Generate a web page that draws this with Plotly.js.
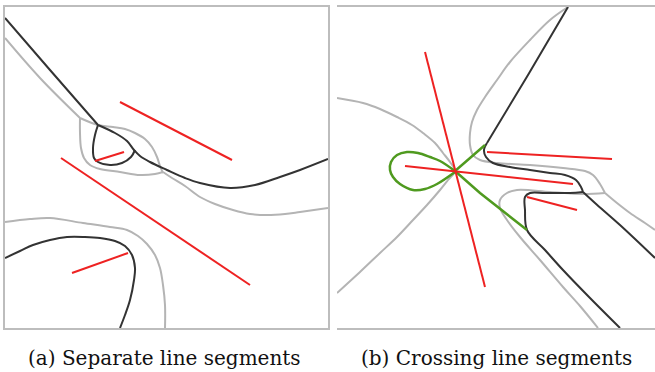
<!DOCTYPE html>
<html><head><meta charset="utf-8">
<script src="https://cdn.plot.ly/plotly-3.0.1.min.js"></script>
<style>body{margin:0;background:#fff}#c{width:655px;height:372px}</style>
</head><body><div id="c"></div>
<script>
// Panel (a) curves, coordinates in the panel's own units
const aBlackUpper = [[5,18],[50,70],[98,125]];
const aBlackMain = [[98,125],[115,133],[127,141],[134,150],[140,156],[150,162],[167,170],[185,178],[200,183],[230,188],[255,185],[280,177],[300,170],[328,159]];
const aBlackLoop = [[98,125],[95,135],[93,148],[94,158],[98,162],[110,165],[122,163],[131,157],[135,150]];
const aGrayUpper = [[5,38],[40,78],[80,118]];
const aGrayTop = [[80,118],[98,125],[113,127],[125,129],[135,133],[145,139],[152,147],[157,157],[160,166],[163,173]];
const aGrayLoop = [[80,118],[80,133],[81,148],[84,158],[90,165],[100,169],[120,172],[140,175],[155,174],[163,172]];
const aGrayMain = [[163,172],[172,178],[185,186],[200,197],[215,204],[233,210],[250,214],[267,215],[285,214],[300,212],[328,208]];
const aGrayLower = [[5,222],[30,219],[50,218],[83,223],[110,227],[127,230],[138,236],[147,244],[155,255],[160,268],[163,285],[165,305],[165,328]];
const aBlackLower = [[5,258],[20,251],[33,245],[50,240],[67,237],[85,237],[100,238],[115,241],[125,246],[132,255],[135,268],[134,280],[130,300],[125,315],[120,328]];
const aRedSegments = [[[120,102],[232,160]],[[95,161],[124,152]],[[61,158],[250,285]],[[72,273],[128,253]]];

// Panel (b) curves
const bBlackUpper = [[568,7],[528,75],[487,143]];
const bBlackMain = [[487,143],[484,150],[486,157],[493,163],[510,167],[530,170],[550,173],[565,175],[576,180],[581,187],[583,192]];
const bBlackRight = [[583,192],[595,203],[620,225],[655,258]];
const bBlackInner = [[583,192],[570,193],[545,193],[530,193],[525,197],[525,210],[527,230],[545,250],[563,270],[590,298],[620,328]];
const bGrayUpper = [[568,7],[550,20],[530,40],[510,62],[497,80],[485,97],[477,110],[472,122],[470,133],[470,145],[473,155],[480,160],[497,163],[530,165],[563,168],[585,171],[593,175],[600,184],[605,193]];
const bGrayRight = [[605,193],[617,203],[630,213],[645,223],[655,230]];
const bGrayInner = [[605,193],[583,194],[550,192],[517,190],[507,193],[500,200],[500,208],[507,220],[520,237],[540,260],[563,287],[580,306],[598,328]];
const bGrayLeft = [[337,98],[363,103],[380,109],[397,117],[412,125],[423,133],[435,143],[443,153],[450,162],[455,171],[448,180],[440,190],[427,205],[413,220],[397,237],[380,253],[360,272],[337,293]];
const bGreenLoop = [[455,171],[440,161],[430,157],[418,153],[407,152],[397,155],[391,162],[390,170],[393,177],[400,184],[413,190],[425,189],[437,184],[455,172]];
const bGreenLine = [[485,145],[455,171],[480,193],[527,230]];
const bRedSegments = [[[425,52],[485,287]],[[405,166],[573,184]],[[487,152],[612,159]],[[527,197],[577,210]]];

const captions = ["(a) Separate line segments", "(b) Crossing line segments"];

const BLACK = '#333333', GRAY = '#b4b4b4', RED = '#ee2222', GREEN = '#4f9a1f';
const traces = [];
function add(pts, color, width, axes, spline) {
  traces.push({
    x: pts.map(p => p[0]), y: pts.map(p => p[1]),
    xaxis: axes[0], yaxis: axes[1], mode: 'lines', hoverinfo: 'skip',
    line: {color: color, width: width, shape: spline ? 'spline' : 'linear', smoothing: 1}
  });
}
const A = ['x', 'y'], B = ['x2', 'y2'];
[aGrayUpper, aGrayTop, aGrayLoop, aGrayMain, aGrayLower].forEach(p => add(p, GRAY, 2, A, true));
[aBlackUpper, aBlackMain, aBlackLoop, aBlackLower].forEach(p => add(p, BLACK, 2, A, true));
aRedSegments.forEach(p => add(p, RED, 2, A, false));
[bGrayUpper, bGrayRight, bGrayInner, bGrayLeft].forEach(p => add(p, GRAY, 2, B, true));
[bBlackUpper, bBlackMain, bBlackRight, bBlackInner].forEach(p => add(p, BLACK, 2, B, true));
add(bGreenLoop, GREEN, 2.5, B, true);
add(bGreenLine, GREEN, 2.5, B, false);
bRedSegments.forEach(p => add(p, RED, 2, B, false));

const W = 655, H = 372;
function ax(d0, d1, r, mirror) {
  return {domain: [d0, d1], range: r, showgrid: false, zeroline: false, showticklabels: false, ticks: '',
    showline: true, mirror: mirror, linecolor: '#bdbdbd', linewidth: 2, fixedrange: true};
}
const yDom = [(H - 328) / H, (H - 7) / H];
const capFont = {family: 'DejaVu Serif', size: 20, color: '#111'};
const layout = {
  width: W, height: H, margin: {l: 0, r: 0, t: 0, b: 0}, showlegend: false,
  paper_bgcolor: '#fff', plot_bgcolor: '#fff',
  xaxis: ax(5 / W, 328 / W, [5, 328], true),
  yaxis: ax(yDom[0], yDom[1], [328, 7], true),
  xaxis2: ax(337 / W, 1, [337, 655], true),
  yaxis2: ax(yDom[0], yDom[1], [328, 7], false),
  annotations: [
    {text: captions[0], x: 164 / W, y: (H - 358) / H, xref: 'paper', yref: 'paper', showarrow: false,
     xanchor: 'center', yanchor: 'middle', font: capFont},
    {text: captions[1], x: 497 / W, y: (H - 358) / H, xref: 'paper', yref: 'paper', showarrow: false,
     xanchor: 'center', yanchor: 'middle', font: capFont}
  ]
};
Plotly.newPlot('c', traces, layout, {staticPlot: true, displayModeBar: false});
</script></body></html>
